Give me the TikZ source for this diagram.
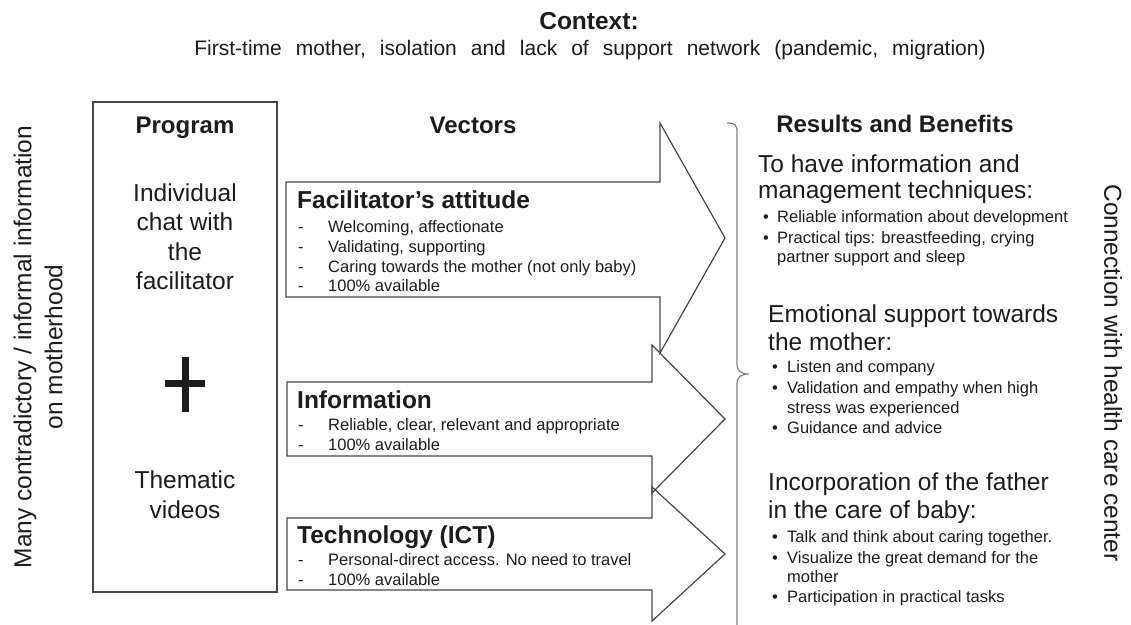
\documentclass[tikz,border=0pt]{standalone}
\usepackage{fontspec}
\setmainfont{Liberation Sans}
\definecolor{inkgray}{RGB}{28,28,28}
\definecolor{linegray}{RGB}{70,70,70}
\definecolor{bracegray}{RGB}{130,130,130}

\begin{document}
\begin{tikzpicture}[x=1pt, y=-1pt,
  every node/.style={inner sep=0pt, text=inkgray},
  ttl/.style={font=\fontsize{24}{28}\selectfont\bfseries, anchor=base},
  big/.style={font=\fontsize{24.5}{29}\selectfont, anchor=base west},
  item/.style={font=\fontsize{16.5}{20}\selectfont, anchor=base west},
  vtitle/.style={font=\fontsize{24.5}{28}\selectfont\bfseries, anchor=base west},
  varrow/.style={draw=linegray, line width=1.2pt}
]
\useasboundingbox (0,0) rectangle (1131,624);

% context on top
\node[font=\fontsize{24.5}{28}\selectfont\bfseries, anchor=base] (ctx) at (589,29) {Context:};
\node[font=\fontsize{21}{25}\selectfont, anchor=base] (ctxtxt) at (590,55)
  {\spaceskip=14pt First-time mother, isolation and lack of support network (pandemic, migration)};

% side labels
\node[font=\fontsize{24.5}{31}\selectfont, align=center, rotate=90] (side) at (38,347)
  {Many contradictory / informal information\\on motherhood};
\node[font=\fontsize{24.5}{29}\selectfont, rotate=-90] (conn) at (1113,373)
  {Connection with health care center};

% program box
\node[draw=linegray, line width=1.2pt, minimum width=184pt, minimum height=490pt] (prog) at (185,347) {};
\node[ttl] (progttl) at (185,133) {Program};
\foreach \yy/\txt [count=\i] in {201/Individual, 230/chat with, 260/the, 289/facilitator, 488/Thematic, 518/videos}
  \node[big, anchor=base] (prog\i) at (185,\yy) {\txt};
\draw[inkgray, line width=7pt] (165,383) -- (205,383) (185,357) -- (185,412);

% vectors
\node[ttl] (vec) at (473,133) {Vectors};
\draw[varrow] (286,182) -- (660,182) -- (660,123) -- (725,238) -- (660,353) -- (660,297) -- (286,297) -- cycle;
\draw[varrow] (287,382) -- (652,382) -- (652,345) -- (725,419) -- (652,493) -- (652,456) -- (287,456) -- cycle;
\draw[varrow] (287,518) -- (652,518) -- (652,487) -- (725,554) -- (652,621) -- (652,590) -- (287,590) -- cycle;

\node[vtitle] (fac) at (297,208) {Facilitator’s attitude};
\foreach \yy/\txt in {232/{Welcoming, affectionate}, 252/{Validating, supporting},
                      272/{Caring towards the mother (not only baby)}, 291/{100\% available}} {
  \node[item] (facd\yy) at (298,\yy) {-};
  \node[item] (fact\yy) at (328,\yy) {\txt};
}
\node[vtitle] (inf) at (297,408) {Information};
\foreach \yy/\txt in {430/{Reliable, clear, relevant and appropriate}, 450/{100\% available}} {
  \node[item] (infd\yy) at (298,\yy) {-};
  \node[item] (inft\yy) at (328,\yy) {\txt};
}
\node[vtitle] (ict) at (297,543) {Technology (ICT)};
\foreach \yy/\txt in {565/{Personal-direct access. No need to travel}, 585/{100\% available}} {
  \node[item] (ictd\yy) at (298,\yy) {-};
  \node[item] (ictt\yy) at (328,\yy) {\txt};
}

% brace towards the results
\draw[bracegray, line width=1.2pt] (727,123) .. controls (735,123) and (737,125) .. (737,132)
  -- (737,364) .. controls (737,371) and (741,374) .. (749,374)
  .. controls (741,374) and (737,377) .. (737,384) -- (737,630);

% results and benefits
\node[ttl] (res) at (895,132) {Results and Benefits};
\node[big] (ra1) at (758,172) {To have information and};
\node[big] (ra2) at (758,198) {management techniques:};
\foreach \yy/\txt in {222/{Reliable information about development}, 243/{Practical tips: breastfeeding, crying}} {
  \node[item] (rab\yy) at (763,\yy) {\textbullet};
  \node[item] (rat\yy) at (777,\yy) {\txt};
}
\node[item] (rat262) at (777,262) {partner support and sleep};

\node[big] (rb1) at (768,322) {Emotional support towards};
\node[big] (rb2) at (768,350) {the mother:};
\foreach \yy/\txt in {372/{Listen and company}, 393/{Validation and empathy when high}, 433/{Guidance and advice}} {
  \node[item] (rbb\yy) at (772,\yy) {\textbullet};
  \node[item] (rbt\yy) at (787,\yy) {\txt};
}
\node[item] (rbt413) at (787,413) {stress was experienced};

\node[big] (rc1) at (768,490) {Incorporation of the father};
\node[big] (rc2) at (768,518) {in the care of baby:};
\foreach \yy/\txt in {542/{Talk and think about caring together.}, 563/{Visualize the great demand for the}, 602/{Participation in practical tasks}} {
  \node[item] (rcb\yy) at (772,\yy) {\textbullet};
  \node[item] (rct\yy) at (787,\yy) {\txt};
}
\node[item] (rct582) at (787,582) {mother};

\end{tikzpicture}
\end{document}
